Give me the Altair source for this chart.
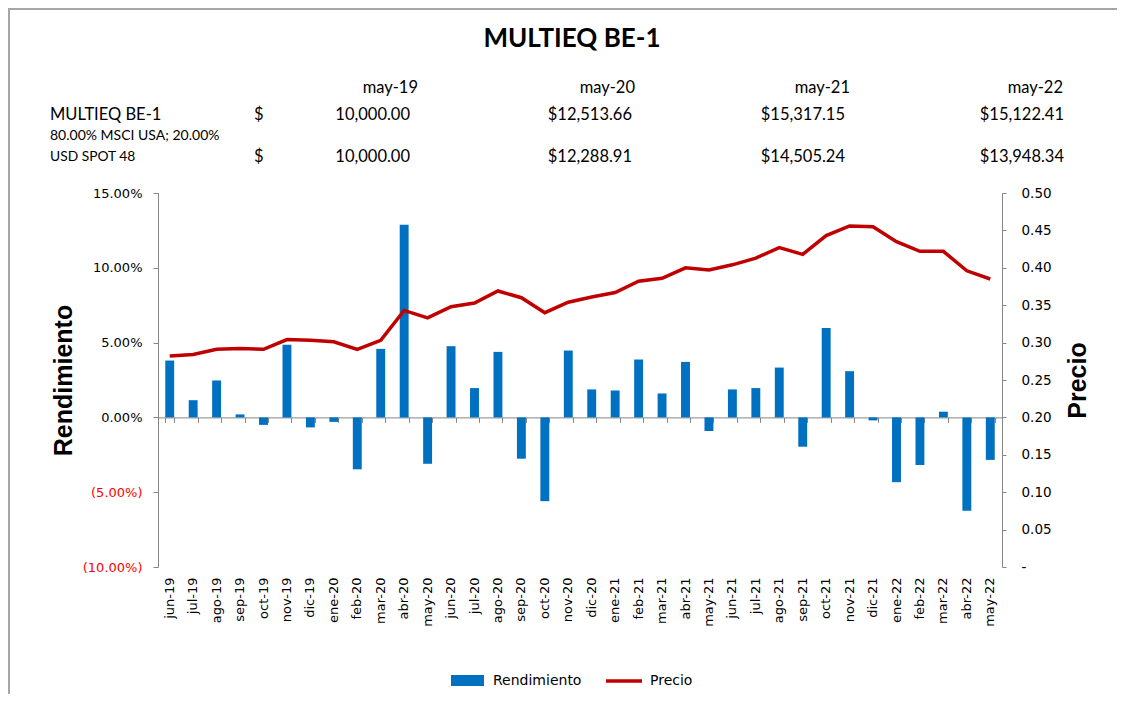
import altair as alt
import pandas as pd

# ---------------- data ----------------
months = ["jun-19", "jul-19", "ago-19", "sep-19", "oct-19", "nov-19", "dic-19",
          "ene-20", "feb-20", "mar-20", "abr-20", "may-20", "jun-20", "jul-20",
          "ago-20", "sep-20", "oct-20", "nov-20", "dic-20", "ene-21", "feb-21",
          "mar-21", "abr-21", "may-21", "jun-21", "jul-21", "ago-21", "sep-21",
          "oct-21", "nov-21", "dic-21", "ene-22", "feb-22", "mar-22", "abr-22",
          "may-22"]

rendimiento_pct = [3.80, 1.15, 2.47, 0.20, -0.50, 4.85, -0.67, -0.30, -3.47, 4.58,
                   12.87, -3.10, 4.76, 1.96, 4.38, -2.76, -5.60, 4.47, 1.87, 1.80,
                   3.87, 1.60, 3.71, -0.91, 1.87, 1.96, 3.33, -1.96, 5.98, 3.09,
                   -0.20, -4.33, -3.18, 0.38, -6.24, -2.84]

precio = [0.282, 0.284, 0.291, 0.292, 0.291, 0.304, 0.303, 0.301, 0.291, 0.303,
          0.343, 0.333, 0.348, 0.353, 0.369, 0.360, 0.340, 0.354, 0.361, 0.367,
          0.382, 0.386, 0.400, 0.397, 0.404, 0.413, 0.427, 0.418, 0.443, 0.456,
          0.455, 0.435, 0.422, 0.422, 0.396, 0.385]

left_ticks = [-0.10, -0.05, 0.0, 0.05, 0.10, 0.15]
right_ticks = [0.0, 0.05, 0.10, 0.15, 0.20, 0.25, 0.30, 0.35, 0.40, 0.45, 0.50]

title_text = "MULTIEQ BE-1"
period_labels = ["may-19", "may-20", "may-21", "may-22"]
fund_name = "MULTIEQ BE-1"
fund_values = ["10,000.00", "$12,513.66", "$15,317.15", "$15,122.41"]
bench_name_1 = "80.00% MSCI USA; 20.00%"
bench_name_2 = "USD SPOT 48"
bench_values = ["10,000.00", "$12,288.91", "$14,505.24", "$13,948.34"]
legend_labels = ["Rendimiento", "Precio"]

df = pd.DataFrame({
    "Mes": months,
    "Rendimiento": [v / 100 for v in rendimiento_pct],
    "Precio": precio,
})

# ---------------- style / layout ----------------
BLUE = "#0070C0"
RED = "#C00000"
GRAY = "#868686"
AXFONT = "DejaVu Sans"
HFONT = "Lato"
W, H = 844, 374
ZERO_OFFSET = -(H * 0.10 / 0.25)  # zero line distance from bottom

x_scale = alt.Scale(domain=months, paddingInner=0.62, paddingOuter=0.31)

bars = alt.Chart(df).mark_bar(color=BLUE).encode(
    x=alt.X("Mes:N", sort=months, scale=x_scale,
            axis=alt.Axis(title=None, labelAngle=270, domain=False, ticks=False,
                          labelPadding=10, labelFont=AXFONT, labelFontSize=13,
                          labelColor="#000000")),
    y=alt.Y("Rendimiento:Q",
            scale=alt.Scale(domain=[-0.10, 0.15], nice=False, zero=False),
            axis=alt.Axis(
                values=left_ticks,
                labelExpr="datum.value < -0.0001 ? '(' + format(-datum.value, '.2%') + ')' : format(datum.value, '.2%')",
                labelColor=alt.condition("datum.value < -0.0001", alt.value("#FF0000"), alt.value("#000000")),
                labelFont=AXFONT, labelFontSize=13, labelPadding=11,
                tickSize=5, tickColor=GRAY, domainColor=GRAY, grid=False,
                title="Rendimiento", titleFont="Liberation Sans", titleFontSize=25,
                titleFontWeight="bold", titleColor="#000000",
                titleAngle=270, titleX=-95, titleY=H / 2,
                titleAlign="center", titleBaseline="middle")),
)

line = alt.Chart(df).mark_line(color=RED, strokeWidth=3.5).encode(
    x=alt.X("Mes:N", sort=months, scale=x_scale,
            axis=alt.Axis(title=None, labels=False, domain=True, ticks=True,
                          tickBand="extent", offset=ZERO_OFFSET, tickSize=5,
                          tickColor=GRAY, domainColor=GRAY, orient="bottom")),
    y=alt.Y("Precio:Q", scale=alt.Scale(domain=[0, 0.5], nice=False),
            axis=alt.Axis(
                orient="right", values=right_ticks,
                labelExpr="datum.value < 0.0001 ? '-' : format(datum.value, '.2f')",
                labelFont=AXFONT, labelFontSize=13.5, labelPadding=15,
                labelColor="#000000",
                tickSize=4, tickColor=GRAY, domainColor=GRAY, grid=False,
                title="Precio", titleFont="Liberation Sans", titleFontSize=25,
                titleFontWeight="bold", titleColor="#000000",
                titleAngle=270, titleX=75, titleY=H / 2,
                titleAlign="center", titleBaseline="middle")),
)

one = alt.Data(values=[{}])


def txt(s, x, y, size, align="left", weight="normal", font=HFONT, color="#000000"):
    return alt.Chart(one).mark_text(
        text=s, align=align, baseline="middle", fontSize=size,
        fontWeight=weight, font=font, color=color,
    ).encode(x=alt.value(x), y=alt.value(y))


deco = []
# frame
deco.append(alt.Chart(one).mark_rect(fill=None, stroke="#A6A6A6", strokeWidth=2).encode(
    x=alt.value(-149), x2=alt.value(W + 200), y=alt.value(-184), y2=alt.value(H + 200)))

# title
deco.append(txt(title_text, 414, -154, 26, align="center", weight="bold"))

# header table
date_x = [260, 477, 692, 905]
val_x = [252, 474, 687, 906]
for s, x in zip(period_labels, date_x):
    deco.append(txt(s, x, -105, 16.5, align="right"))
deco.append(txt(fund_name, -108, -78, 16.5))
deco.append(txt("$", 96, -78, 16.5))
for s, x in zip(fund_values, val_x):
    deco.append(txt(s, x, -78, 16.5, align="right"))
deco.append(txt(bench_name_1, -108, -57, 14))
deco.append(txt(bench_name_2, -108, -36, 13.8))
deco.append(txt("$", 96, -36, 16.5))
for s, x in zip(bench_values, val_x):
    deco.append(txt(s, x, -36, 16.5, align="right"))

# legend
deco.append(alt.Chart(one).mark_rect(color=BLUE).encode(
    x=alt.value(293), x2=alt.value(326), y=alt.value(482), y2=alt.value(493)))
deco.append(txt(legend_labels[0], 335, 488, 14, font=AXFONT))
deco.append(alt.Chart(one).mark_rule(color=RED, strokeWidth=3.5).encode(
    x=alt.value(448), x2=alt.value(484), y=alt.value(488)))
deco.append(txt(legend_labels[1], 492, 488, 14, font=AXFONT))

chart = alt.layer(bars, line, *deco).resolve_scale(y="independent").resolve_axis(
    x="independent").properties(
    width=W, height=H,
    autosize=alt.AutoSizeParams(type="none"),
    padding={"left": 150, "top": 185, "right": 115, "bottom": 127},
    background="white",
).configure_view(stroke=None)

chart.save("out.html", embed_options={"renderer": "svg", "actions": False})
